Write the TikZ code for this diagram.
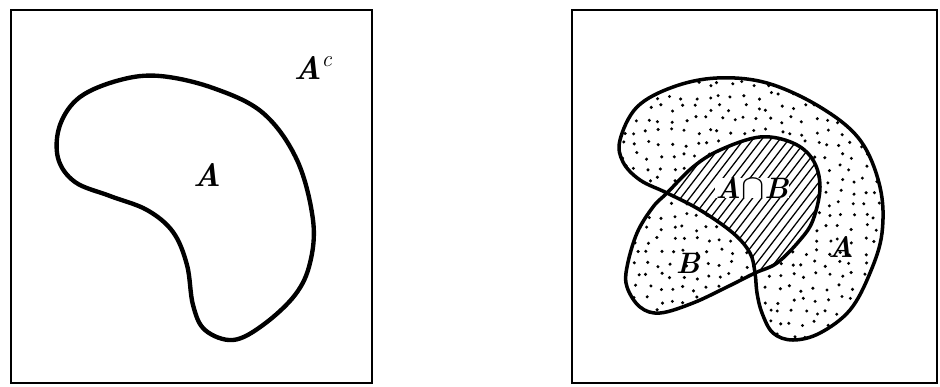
\documentclass[tikz,border=0pt]{standalone}
\usetikzlibrary{positioning}

%% outlines, in pixel units of the figure
\newcommand{\blobA}{plot[smooth cycle, tension=0.6] coordinates {
  (120,80) (160,76) (213,88) (263,113) (297,160) (313,220) (310,263)
  (295,295) (263,325) (233,340) (205,330) (193,305) (187,265) (173,232)
  (147,210) (110,196) (75,182) (58,158) (60,125) (80,97)}}
\newcommand{\regionA}{plot[smooth cycle, tension=0.6] coordinates {
  (620,140) (637,107) (673,87) (717,78) (767,83) (820,107) (860,140)
  (880,187) (882,233) (870,273) (850,310) (820,333) (793,340) (773,333)
  (762,313) (757,293) (755,273) (750,253) (733,233) (700,210) (667,193)
  (640,180) (623,162)}}
\newcommand{\regionB}{plot[smooth cycle, tension=0.6] coordinates {
  (667,193) (693,167) (720,150) (760,137) (793,143) (813,160) (820,187)
  (813,220) (800,240) (777,263) (755,273) (727,287) (693,303) (660,313)
  (640,307) (627,287) (627,267) (637,233) (653,207)}}
\newcommand{\stipple}{%
  \foreach \x in {612,624,...,892}
    \foreach \y in {72,84,...,348}
      \fill ({\x+3.5*rand},{\y+3.5*rand}) circle (1.2pt);}

\begin{document}
\begin{tikzpicture}[
  x=0.025cm, y=-0.025cm,
  frame/.style={draw, line width=1.6pt},
  outl/.style ={draw, line width=3.1pt},
  outr/.style ={draw, line width=2.5pt},
  hatch/.style={line width=0.9pt},
  lbl/.style  ={font=\fontsize{23}{25}\selectfont\bfseries\itshape, inner sep=1pt},
  lbs/.style  ={font=\fontsize{21}{23}\selectfont\bfseries\itshape, inner sep=1pt}
]
\useasboundingbox (0,0) rectangle (940,387);
\pgfmathsetseed{7}

%% left panel
\draw[frame] (11,10) rectangle (372,383);
\draw[outl] \blobA;
\node[lbl] (lblA)  at (207,175) {A};
\node[lbl] (lblAc) at (313,68)  {A\textsuperscript{\normalfont\itshape c}};

%% right panel
\draw[frame] (572,10) rectangle (937,383);
\begin{scope}
  \clip \regionA;
  \stipple
\end{scope}
\begin{scope}
  \clip \regionB;
  \stipple
\end{scope}
\begin{scope}
  \clip \regionA;
  \clip \regionB;
  \fill[white] (600,100) rectangle (850,320);
  \foreach \k in {560,569,...,780}
    \draw[hatch] (\k,320) -- (\k+169,100);
\end{scope}
\draw[outr] \regionA;
\draw[outr] \regionB;

%% labels
\node[lbs, fill=white, inner sep=0pt] (lblAB) at (752,188)
  {A{\fontsize{30}{30}\selectfont$\cap$}B};
\node[lbs] (lblB)  at (688,263) {B};
\node[lbs] (lblA2) at (841,247) {A};
\end{tikzpicture}
\end{document}
